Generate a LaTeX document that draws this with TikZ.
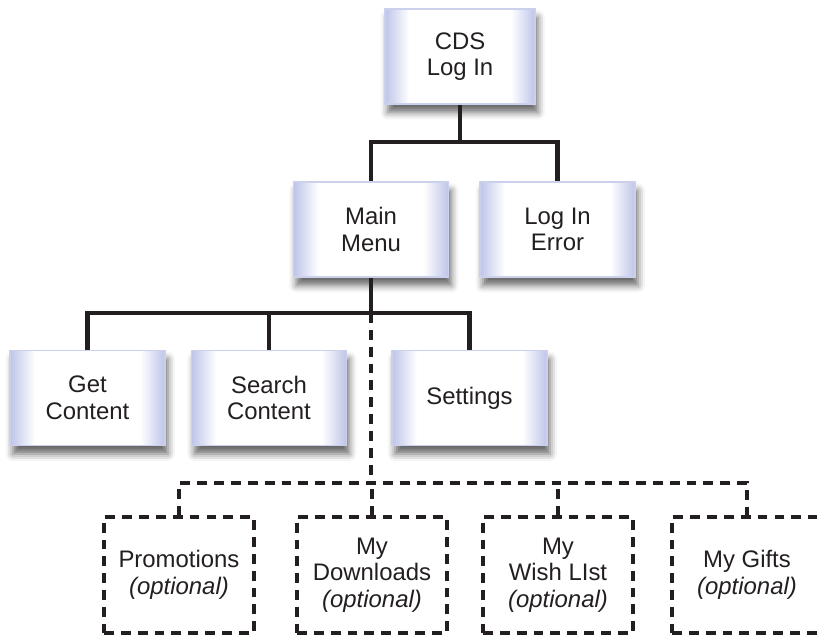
\documentclass[tikz,border=0pt]{standalone}
\usepackage{fontspec}
\setmainfont{Liberation Sans}
\usetikzlibrary{shadows.blur}
\definecolor{MenuBlue}{RGB}{190,196,232}
\definecolor{MenuInk}{RGB}{35,31,32}
\pgfdeclarehorizontalshading{menuglow}{100bp}{color(0bp)=(MenuBlue); color(25bp)=(MenuBlue);
    color(33bp)=(white); color(67bp)=(white); color(75bp)=(MenuBlue); color(100bp)=(MenuBlue)}

\tikzset{
    menubox/.style={rectangle, minimum width=3.875cm, minimum height=2.375cm,
        shading=menuglow, draw=MenuBlue!80, line width=1.2pt,
        align=center, text=MenuInk, font=\fontsize{17}{19}\selectfont,
        blur shadow={shadow xshift=2pt, shadow yshift=-6pt,
            shadow blur radius=5pt, shadow opacity=60}},
    optbox/.style={rectangle, draw=MenuInk, line width=2.2pt,
        dash pattern=on 7pt off 5pt, fill=white,
        minimum width=3.75cm, minimum height=2.9cm,
        align=center, text=MenuInk, font=\fontsize{17}{19}\selectfont},
    tree/.style={draw=MenuInk, line width=3pt},
    opttree/.style={draw=MenuInk, line width=3pt, dash pattern=on 7pt off 5pt}
}

\begin{document}
\begin{tikzpicture}[x=0.025cm, y=-0.025cm]
    \useasboundingbox (0,0) rectangle (817,637);

    % Connector bars
    \coordinate (topbar) at (460,142);
    \coordinate (midbar) at (371,313);
    \coordinate (lowbar) at (371,483);

    % Solid menu screens
    \node[menubox, minimum width=3.75cm] (cds) at (460,56.5) {CDS\\Log In};
    \node[menubox] (main) at (371,229.5) {Main\\Menu};
    \node[menubox] (error) at (557.5,229.5) {Log In\\Error};
    \node[menubox] (get) at (87.5,398) {Get\\Content};
    \node[menubox] (search) at (269,398) {Search\\Content};
    \node[menubox] (settings) at (469.5,398) {Settings};

    % Optional screens
    \node[optbox] (promo) at (179,575) {Promotions\\\textit{(optional)}};
    \node[optbox] (downloads) at (372,575) {My\\Downloads\\\textit{(optional)}};
    \node[optbox] (wish) at (558,575) {My\\Wish LIst\\\textit{(optional)}};
    \node[optbox] (gifts) at (747,575) {My Gifts\\\textit{(optional)}};

    % Tree lines
    \draw[tree] (cds.south) -- (topbar);
    \draw[tree] (main.north) |- (topbar) -| (error.north);
    \draw[tree] (main.south) -- (main.south |- midbar);
    \draw[tree] (get.north) |- (midbar) -| (settings.north);
    \draw[tree] (search.north) -- (search.north |- midbar);

    % Optional branch
    \draw[opttree] (main.south |- midbar) -- (main.south |- lowbar);
    \draw[opttree] (promo.north) |- (lowbar) -| (gifts.north);
    \draw[opttree] (downloads.north) -- (downloads.north |- lowbar);
    \draw[opttree] (wish.north) -- (wish.north |- lowbar);
\end{tikzpicture}
\end{document}
